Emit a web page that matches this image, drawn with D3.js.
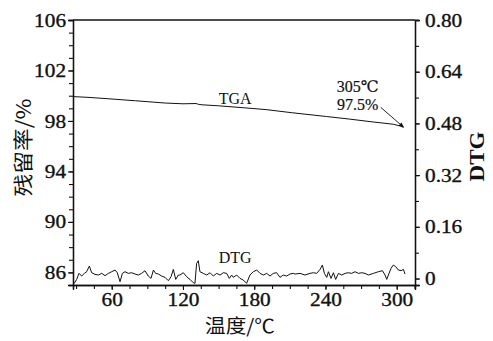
<!DOCTYPE html>
<html>
<head>
<meta charset="utf-8">
<script src="https://cdn.jsdelivr.net/npm/d3@7"></script>
<style>
  body { margin: 0; background: #fff; }
  svg text { fill: #111; }
</style>
</head>
<body>
<div id="chart"></div>
<script>
/* ── data ─────────────────────────────────────────────────── */
// TGA: temperature (°C) vs residual (%)
const tgaTemp = [27.4, 40, 57, 80, 105, 120, 131, 133, 136, 150, 172, 190, 212, 241, 260, 280, 297, 303, 305];
const tgaVal  = [99.93, 99.87, 99.76, 99.6, 99.42, 99.36, 99.38, 99.32, 99.28, 99.2, 99.04, 98.9, 98.65, 98.35, 98.15, 97.92, 97.74, 97.6, 97.5];

// DTG: temperature (°C) vs DTG
const dtgTemp = [
  28.5, 30.5, 32.5, 34.7, 37.0, 38.9, 41.2, 43.1, 45.9, 48.7, 51.6, 54.4, 57.2, 60.0, 62.8, 64.7, 67.0, 69.0,
  71.2, 74.0, 76.8, 79.6, 82.4, 85.2, 88.0, 90.8, 93.1, 95.1, 97.0, 99.3, 102.1, 104.9, 107.7, 110.0, 111.9,
  113.9, 116.1, 117.5, 120.3, 123.1, 125.9, 128.7, 130.1, 131.5, 132.9, 134.3, 137.1, 140.0, 142.8, 145.6,
  148.4, 151.2, 154.0, 156.8, 159.0, 161.0, 162.4, 165.2, 168.0, 170.8, 173.6, 176.4, 179.3, 182.1, 184.9,
  187.7, 190.5, 193.3, 196.1, 198.9, 201.7, 204.5, 207.3, 210.1, 212.9, 214.4, 218.6, 222.8, 227.0, 229.8,
  232.6, 235.5, 237.4, 239.1, 241.1, 242.5, 244.7, 246.7, 248.6, 250.9, 253.7, 256.5, 259.3, 262.1, 264.9,
  267.7, 270.5, 273.3, 276.2, 280.4, 284.6, 288.0, 290.2, 291.6, 293.0, 295.2, 297.2, 299.2, 301.4, 303.7,
  305.6, 307.0
];
const dtgVal = [
  -0.0149, -0.0026, 0.0160, 0.0077, 0.0160, 0.0211, 0.0387, 0.0180, 0.0129, 0.0108, 0.0160, 0.0088, 0.0160,
  0.0211, 0.0263, 0.0180, -0.0098, 0.0160, 0.0211, 0.0160, 0.0180, 0.0139, 0.0108, 0.0160, 0.0242, 0.0077,
  0.0005, 0.0263, 0.0160, 0.0139, 0.0077, 0.0036, -0.0067, 0.0057, 0.0284, -0.0026, 0.0108, 0.0108, 0.0180,
  0.0057, -0.0026, -0.0129, -0.0149, 0.0469, 0.0552, 0.0211, 0.0160, 0.0108, 0.0180, 0.0077, 0.0160, 0.0108,
  0.0180, 0.0160, 0.0005, 0.0108, 0.0036, 0.0108, 0.0005, -0.0046, -0.0149, 0.0108, 0.0211, 0.0263, 0.0160,
  0.0108, 0.0160, 0.0077, 0.0160, 0.0180, 0.0036, 0.0108, 0.0077, 0.0139, 0.0160, 0.0139, 0.0160, 0.0108,
  0.0160, 0.0180, 0.0160, 0.0284, 0.0418, 0.0160, 0.0036, 0.0211, 0.0005, 0.0180, -0.0026, 0.0160, 0.0108,
  0.0160, 0.0180, 0.0160, 0.0211, 0.0160, 0.0180, 0.0160, 0.0108, 0.0160, 0.0211, 0.0242, 0.0108, -0.0026,
  0.0108, 0.0315, 0.0418, 0.0366, 0.0263, 0.0242, 0.0284, 0.0139
];

// tick values
const xMajor = [60, 120, 180, 240, 300];
const yMajor = [86, 90, 94, 98, 102, 106];
const y2Major = [0, 0.16, 0.32, 0.48, 0.64, 0.80];

// annotation
const peakTemp = 305, peakVal = 97.5;
const annoLines = ['305℃', '97.5%'];

/* ── layout ───────────────────────────────────────────────── */
const W = 493, H = 341;
const ML = 73, MR = 78, MT = 20, MB = 56;
const plotW = W - ML - MR;
const plotH = H - MT - MB;

const NUM_FONT = '"Liberation Serif", "DejaVu Serif", serif';
const CJK_FONT = '"Noto Sans CJK SC", sans-serif';

const svg = d3.select('#chart').append('svg')
  .attr('width', W).attr('height', H);

const x  = d3.scaleLinear().domain([27.4, 315.4]).range([ML, ML + plotW]);
const y  = d3.scaleLinear().domain([85, 106]).range([MT + plotH, MT]);
const y2 = d3.scaleLinear().domain([-0.02, 0.8]).range([MT + plotH, MT]);

// stretch text a little wider, the source figure is slightly wide-set
function widen(sel, k) {
  sel.each(function () {
    const len = this.getComputedTextLength();
    if (len > 0) {
      d3.select(this).attr('textLength', len * k).attr('lengthAdjust', 'spacingAndGlyphs');
    }
  });
}

// ── axes ────────────────────────────────────────────────────
function styleAxis(g) {
  g.selectAll('.domain').attr('stroke', '#111').attr('stroke-width', 1.3);
  g.selectAll('.tick line').attr('stroke', '#111').attr('stroke-width', 1.1);
  g.selectAll('text')
    .attr('font-family', NUM_FONT).attr('font-size', 19).attr('fill', '#111')
    .attr('stroke', '#111').attr('stroke-width', 0.35)
    .call(widen, 1.12);
}

// minor ticks first, majors over them
svg.append('g').attr('transform', `translate(0,${MT + plotH})`)
  .call(d3.axisBottom(x).tickValues(d3.range(30, 316, 15)).tickSize(4).tickFormat(''))
  .call(styleAxis);
svg.append('g').attr('transform', `translate(0,${MT + plotH})`)
  .call(d3.axisBottom(x).tickValues(xMajor).tickSize(5).tickPadding(3).tickFormat(d3.format('d')))
  .call(styleAxis);

svg.append('g').attr('transform', `translate(${ML},0)`)
  .call(d3.axisLeft(y).tickValues(d3.range(85, 107, 1)).tickSize(4).tickFormat(''))
  .call(styleAxis);
svg.append('g').attr('transform', `translate(${ML},0)`)
  .call(d3.axisLeft(y).tickValues(yMajor).tickSize(5).tickPadding(2).tickFormat(d3.format('d')))
  .call(styleAxis);

svg.append('g').attr('transform', `translate(${ML + plotW},0)`)
  .call(d3.axisRight(y2).tickValues(d3.range(0, 0.81, 0.08)).tickSize(4).tickFormat(''))
  .call(styleAxis);
svg.append('g').attr('transform', `translate(${ML + plotW},0)`)
  .call(d3.axisRight(y2).tickValues(y2Major).tickSize(5).tickPadding(5)
    .tickFormat(d => d === 0 ? '0' : d3.format('.2f')(d)))
  .call(styleAxis);

// top frame line
svg.append('line')
  .attr('x1', ML).attr('x2', ML + plotW).attr('y1', MT).attr('y2', MT)
  .attr('stroke', '#111').attr('stroke-width', 1.3);

// ── curves ──────────────────────────────────────────────────
const tgaLine = d3.line().x(d => x(d[0])).y(d => y(d[1]));
svg.append('path')
  .datum(d3.zip(tgaTemp, tgaVal))
  .attr('d', tgaLine)
  .attr('fill', 'none').attr('stroke', '#111').attr('stroke-width', 1);

const dtgLine = d3.line().x(d => x(d[0])).y(d => y2(d[1]));
svg.append('path')
  .datum(d3.zip(dtgTemp, dtgVal))
  .attr('d', dtgLine)
  .attr('fill', 'none').attr('stroke', '#111').attr('stroke-width', 1);

// ── labels ──────────────────────────────────────────────────
svg.append('text')
  .attr('x', x(164)).attr('y', y(99.37))
  .attr('text-anchor', 'middle')
  .attr('font-family', NUM_FONT).attr('font-size', 16)
  .text('TGA');

svg.append('text')
  .attr('x', x(164)).attr('y', y2(0.048))
  .attr('text-anchor', 'middle')
  .attr('font-family', NUM_FONT).attr('font-size', 16)
  .text('DTG');

// annotation with arrow
const px = x(peakTemp), py = y(peakVal);
svg.selectAll('.anno').data(annoLines).join('text')
  .attr('class', 'anno')
  .attr('x', px - 45).attr('y', (d, i) => py - 35 + i * 18)
  .attr('text-anchor', 'middle')
  .attr('font-family', NUM_FONT).attr('font-size', 16)
  .attr('stroke', '#111').attr('stroke-width', 0.2)
  .text(d => d);

const defs = svg.append('defs');
defs.append('marker')
  .attr('id', 'arrow').attr('viewBox', '0 0 10 10')
  .attr('refX', 9).attr('refY', 5)
  .attr('markerWidth', 7).attr('markerHeight', 6)
  .attr('orient', 'auto')
  .append('path').attr('d', 'M0,1 L10,5 L0,9 Z').attr('fill', '#111');

svg.append('line')
  .attr('x1', px - 22).attr('y1', py - 20)
  .attr('x2', px + 1).attr('y2', py)
  .attr('stroke', '#111').attr('stroke-width', 0.9)
  .attr('marker-end', 'url(#arrow)');

// axis titles
svg.append('text')
  .attr('x', ML + plotW / 2 - 4).attr('y', H - 8)
  .attr('text-anchor', 'middle')
  .attr('font-family', CJK_FONT).attr('font-size', 19)
  .attr('textLength', 70).attr('lengthAdjust', 'spacingAndGlyphs')
  .text('温度/℃');

svg.append('text')
  .attr('transform', `translate(31,${MT + plotH / 2 - 5}) rotate(-90)`)
  .attr('text-anchor', 'middle')
  .attr('font-family', CJK_FONT).attr('font-size', 20)
  .attr('textLength', 98).attr('lengthAdjust', 'spacingAndGlyphs')
  .text('残留率/%');

svg.append('text')
  .attr('transform', `translate(484,${MT + plotH / 2 + 4}) rotate(-90)`)
  .attr('text-anchor', 'middle')
  .attr('font-family', NUM_FONT).attr('font-size', 20).attr('font-weight', 'bold')
  .attr('textLength', 50).attr('lengthAdjust', 'spacingAndGlyphs')
  .text('DTG');
</script>
</body>
</html>
